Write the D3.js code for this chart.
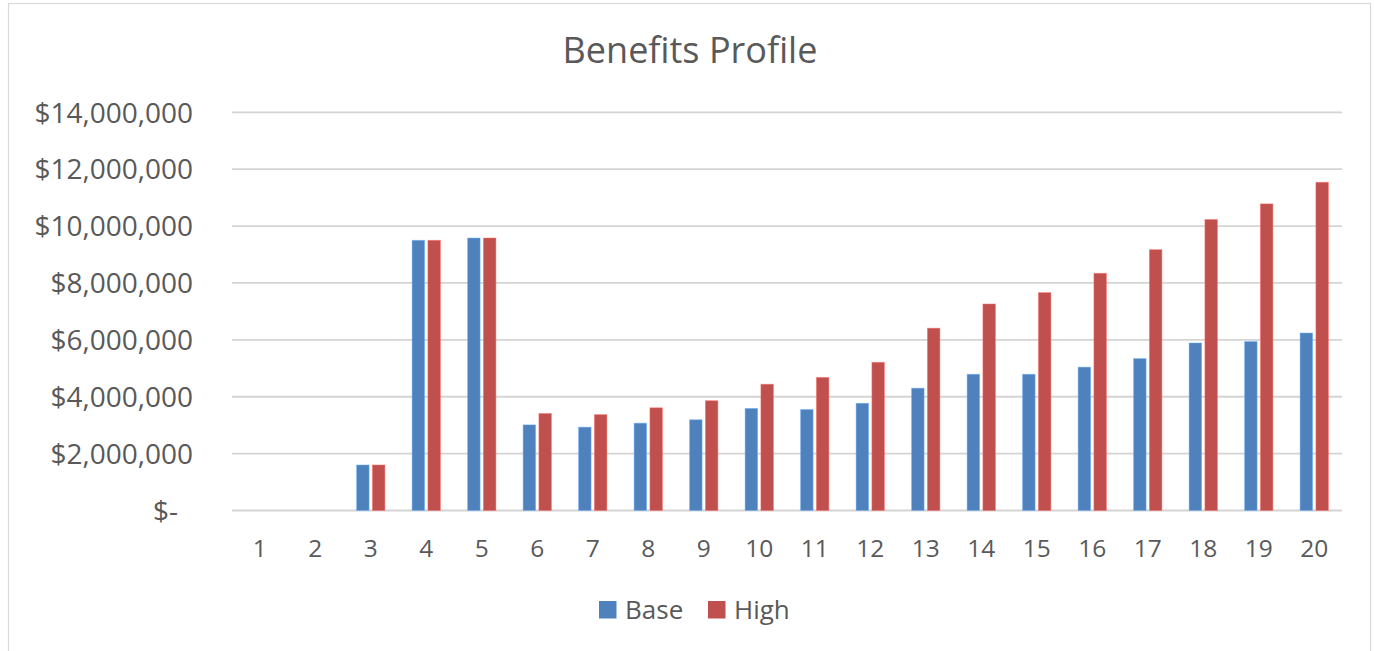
<!DOCTYPE html>
<html>
<head>
<meta charset="utf-8">
<script src="https://cdn.jsdelivr.net/npm/d3@7"></script>
<style>
  html, body { margin: 0; padding: 0; background: #fff; }
  svg { display: block; }
  text { font-family: "Open Sans", "Noto Sans", sans-serif; fill: #595959; }
</style>
</head>
<body>
<svg id="chart" width="1374" height="651"></svg>
<script>
// Benefits profile by year, two scenarios
const years = ["1","2","3","4","5","6","7","8","9","10","11","12","13","14","15","16","17","18","19","20"];
const seriesNames = ["Base", "High"];
const baseValues = [0, 0, 1600000, 9500000, 9580000, 3010000, 2930000, 3070000, 3190000, 3590000,
                    3550000, 3770000, 4300000, 4790000, 4790000, 5040000, 5340000, 5890000, 5940000, 6240000];
const highValues = [0, 0, 1600000, 9500000, 9580000, 3410000, 3370000, 3610000, 3860000, 4440000,
                    4680000, 5210000, 6410000, 7260000, 7660000, 8340000, 9170000, 10230000, 10780000, 11540000];
const yTicks = [0, 2000000, 4000000, 6000000, 8000000, 10000000, 12000000, 14000000];
const colors = ["#4F81BD", "#C0504D"];

const svg = d3.select("#chart");

// outer chart border
svg.append("rect")
  .attr("x", 8.5).attr("y", 3.5)
  .attr("width", 1362).attr("height", 660)
  .attr("fill", "#fff").attr("stroke", "#d9d9d9").attr("stroke-width", 1.2);

const plot = { left: 232, right: 1342, top: 112.3, bottom: 510.5 };

const x = d3.scaleBand().domain(years).range([plot.left, plot.right]).paddingInner(0).paddingOuter(0);
const groupW = x.bandwidth() * 0.51;
const xs = d3.scaleBand().domain(seriesNames).range([0, groupW]).paddingInner(0.21).paddingOuter(0);
const y = d3.scaleLinear().domain([0, 14000000]).range([plot.bottom, plot.top]);

// title
svg.append("text")
  .attr("x", 690).attr("y", 63)
  .attr("text-anchor", "middle")
  .style("font-size", "36px")
  .text("Benefits Profile");

// gridlines
svg.append("g")
  .selectAll("line")
  .data(yTicks)
  .join("line")
  .attr("x1", plot.left).attr("x2", plot.right)
  .attr("y1", d => y(d)).attr("y2", d => y(d))
  .attr("stroke", "#d4d4d4").attr("stroke-width", 1.8);

// y axis labels
const fmt = d => d === 0 ? "$-" : "$" + d3.format(",")(d);
const yAxis = d3.axisLeft(y).tickValues(yTicks).tickFormat(fmt).tickSize(0).tickPadding(0);
const gy = svg.append("g").attr("transform", `translate(193,0)`).call(yAxis);
gy.select(".domain").remove();
gy.selectAll("text")
  .style("font-size", "28px")
  .attr("fill", "#595959")
  .attr("font-family", null)
  .attr("dx", d => d === 0 ? -15 : 0)
  .attr("dy", "0.35em");

// bars
const data = years.map((yr, i) => ({ yr, vals: [baseValues[i], highValues[i]] }));
const groups = svg.append("g").selectAll("g")
  .data(data)
  .join("g")
  .attr("transform", d => `translate(${x(d.yr) + (x.bandwidth() - groupW) / 2},0)`);

groups.selectAll("rect")
  .data(d => d.vals.map((v, j) => ({ name: seriesNames[j], v, j })))
  .join("rect")
  .filter(d => d.v > 0)
  .attr("x", d => xs(d.name))
  .attr("width", xs.bandwidth())
  .attr("y", d => y(d.v))
  .attr("height", d => y(0) - y(d.v))
  .attr("fill", d => colors[d.j])
  .attr("stroke", d => d3.color(colors[d.j]).brighter(0.9))
  .attr("stroke-opacity", 0.6)
  .attr("stroke-width", 0.8);

// x axis labels
const xAxis = d3.axisBottom(x).tickSize(0).tickPadding(0);
const gx = svg.append("g").attr("transform", `translate(0,${plot.bottom})`).call(xAxis);
gx.select(".domain").remove();
gx.selectAll("text")
  .attr("font-family", null)
  .attr("fill", "#595959")
  .style("font-size", "24.5px")
  .attr("y", 46.5)
  .attr("dy", 0);

// legend
const legendX = [599, 708];
const legend = svg.append("g").selectAll("g")
  .data(seriesNames)
  .join("g")
  .attr("transform", (d, i) => `translate(${legendX[i]},601)`);
legend.append("rect")
  .attr("width", 17.5).attr("height", 17.5)
  .attr("fill", (d, i) => colors[i]);
legend.append("text")
  .attr("x", 26).attr("y", 18)
  .style("font-size", "26px")
  .text(d => d);
</script>
</body>
</html>
